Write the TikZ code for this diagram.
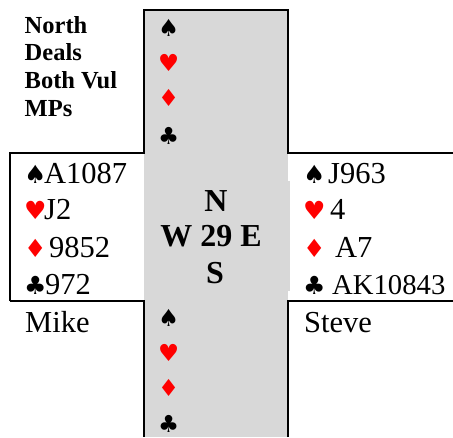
\documentclass[tikz,border=0pt]{standalone}
\usepackage{fontspec}
\setmainfont{Liberation Serif}
\newfontfamily\suitfont{DejaVu Sans}
\definecolor{boardgray}{RGB}{216,216,216}
\newcommand{\spd}{{\suitfont\char"2660}}
\newcommand{\hrt}{{\suitfont\color{red}\char"2665}}
\newcommand{\dmd}{{\suitfont\color{red}\char"2666}}
\newcommand{\clb}{{\suitfont\char"2663}}
% suit symbol in a box of given width, then the cards
\newcommand{\cards}[3]{\makebox[#1pt][l]{\fontsize{25}{25}\selectfont #2}#3}
\begin{document}
\begin{tikzpicture}
		[x=1pt,y=-1pt,
		hand/.style={anchor=base west,inner sep=0pt,font=\fontsize{30.5}{31}\selectfont},
		info/.style={anchor=base west,inner sep=0pt,font=\fontsize{24.5}{24.5}\selectfont\bfseries},
		compass/.style={anchor=base,inner sep=0pt,font=\fontsize{32}{32}\selectfont\bfseries},
		suit/.style={anchor=base west,inner sep=0pt,font=\fontsize{23.5}{23.5}\selectfont},
		edge/.style={line width=1.4pt}]
		\useasboundingbox (0,0) rectangle (453,437);
		\fill[boardgray] (144,10) rectangle (288,437);
		\fill[boardgray] (144,181) rectangle (290,291);
		% outline of the cross
		\coordinate (topleft) at (144,10);
		\coordinate (topright) at (288,10);
		\coordinate (westtop) at (10,153);
		\coordinate (westbot) at (10,301);
		\draw[edge] (westbot) -- (westtop) -- (144,153) -- (topleft) -- (topright) -- (288,153) -- (453,153);
		\draw[edge] (westbot) -- (144,301) -- (144,437);
		\draw[edge] (288,437) -- (288,301) -- (453,301);
		% deal info
		\node[info] (north) at (24.5,33) {North};
		\node[info] (deals) at (24.5,60) {Deals};
		\node[info] (vul) at (24.5,88) {Both Vul};
		\node[info] (mps) at (24.5,116) {MPs};
		% north and south suits
		\foreach \name/\s/\ypos in {ns/\spd/36,nh/\hrt/71,nd/\dmd/106,nc/\clb/144,
			ss/\spd/326,sh/\hrt/361,sd/\dmd/396,sc/\clb/432}
		{
			\node[suit] (\name) at (158,\ypos) {\s};
		}
		% board
		\node[compass] (bn) at (216,211) {N};
		\node[compass] (bm) at (211,246) {W 29 E};
		\node[compass] (bs) at (215,283) {S};
		% west hand
		\node[hand] (wspade) at (24,183) {\cards{20}{\spd}{A1087}};
		\node[hand] (wheart) at (24,219) {\cards{20}{\hrt}{J2}};
		\node[hand] (wdiam) at (24,257) {\cards{25}{\dmd}{9852}};
		\node[hand] (wclub) at (24,294) {\cards{21}{\clb}{972}};
		\node[hand] (mike) at (25,332) {Mike};
		% east hand
		\node[hand] (espade) at (303,183) {\cards{25}{\spd}{J963}};
		\node[hand] (eheart) at (303,219) {\cards{27}{\hrt}{4}};
		\node[hand] (ediam) at (303,257) {\cards{32}{\dmd}{A7}};
		\node[hand,font=\fontsize{28.7}{29}\selectfont] (eclub) at (303,294) {\cards{29}{\clb}{AK10843}};
		\node[hand] (steve) at (304,332) {Steve};
	\end{tikzpicture}
\end{document}
